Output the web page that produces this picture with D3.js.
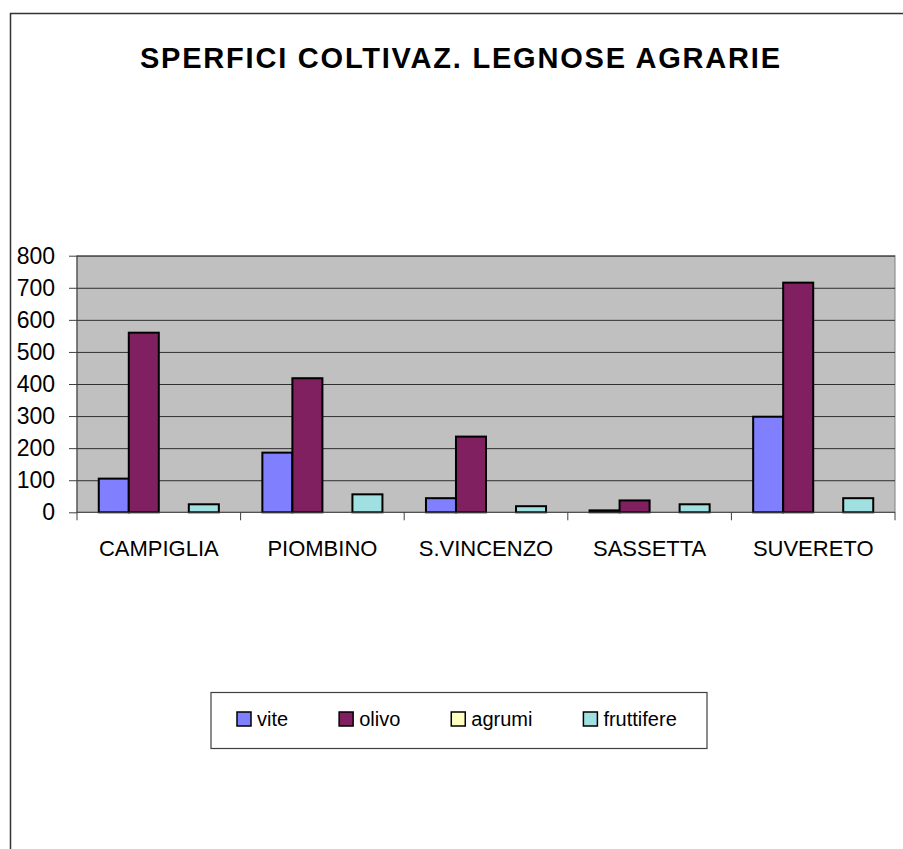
<!DOCTYPE html>
<html>
<head>
<meta charset="utf-8">
<script src="https://cdn.jsdelivr.net/npm/d3@7.9.0/dist/d3.min.js"></script>
<style>
  body { margin: 0; background: #fff; }
  text { font-family: "Liberation Sans", Arial, sans-serif; fill: #000; }
</style>
</head>
<body>
<div id="chart"></div>
<script>
const categories = ["CAMPIGLIA", "PIOMBINO", "S.VINCENZO", "SASSETTA", "SUVERETO"];
const seriesNames = ["vite", "olivo", "agrumi", "fruttifere"];
const vite = [105, 186, 44, 6, 298];
const olivo = [560, 418, 236, 37, 716];
const agrumi = [0, 0, 0, 0, 0];
const fruttifere = [25, 56, 19, 25, 44];
const yTicks = [0, 100, 200, 300, 400, 500, 600, 700, 800];
const colors = ["#8080ff", "#802060", "#ffffc0", "#a0e0e0"];

const width = 903;
const height = 849;

const seriesValues = [vite, olivo, agrumi, fruttifere];
const rows = categories.map((c, i) => ({
  cat: c,
  values: seriesNames.map((s, j) => ({ key: s, value: seriesValues[j][i] }))
}));

const plot = { left: 77, right: 895, top: 255.7, bottom: 512.3 };

const svg = d3.select("#chart")
  .append("svg")
  .attr("width", width)
  .attr("height", height);

// outer chart frame (clipped on right/bottom like the original)
svg.append("rect")
  .attr("x", 10.5).attr("y", 13.5)
  .attr("width", 1000).attr("height", 1000)
  .attr("fill", "none")
  .attr("stroke", "#333")
  .attr("stroke-width", 1.5);

svg.append("text")
  .attr("x", 460)
  .attr("y", 68)
  .attr("text-anchor", "middle")
  .attr("textLength", 640)
  .attr("lengthAdjust", "spacing")
  .style("font-size", "29px")
  .style("font-weight", "bold")
  .text("SPERFICI COLTIVAZ. LEGNOSE AGRARIE");

const x = d3.scaleBand()
  .domain(categories)
  .range([plot.left, plot.right]);

const xSub = d3.scaleBand()
  .domain(seriesNames)
  .range([0, x.bandwidth()])
  .paddingOuter(0.725);

const y = d3.scaleLinear()
  .domain([0, 800])
  .range([plot.bottom, plot.top]);

const color = d3.scaleOrdinal().domain(seriesNames).range(colors);

// plot background
svg.append("rect")
  .attr("x", plot.left).attr("y", plot.top)
  .attr("width", plot.right - plot.left)
  .attr("height", plot.bottom - plot.top)
  .attr("fill", "#c0c0c0")
  .attr("stroke", "#808080")
  .attr("stroke-width", 1);

// gridlines
svg.append("g")
  .attr("class", "gridlines")
  .attr("transform", `translate(${plot.left},0)`)
  .call(d3.axisLeft(y).tickValues(yTicks.slice(1)).tickFormat("").tickSize(-(plot.right - plot.left)))
  .call(g => g.select(".domain").remove())
  .call(g => g.selectAll("line").attr("stroke", "#303030").attr("stroke-width", 1));

// bars
svg.append("g")
  .selectAll("g")
  .data(rows)
  .join("g")
  .attr("transform", d => `translate(${x(d.cat)},0)`)
  .selectAll("rect")
  .data(d => d.values)
  .join("rect")
  .attr("x", d => xSub(d.key))
  .attr("y", d => y(d.value))
  .attr("width", xSub.bandwidth())
  .attr("height", d => y(0) - y(d.value))
  .attr("fill", d => color(d.key))
  .attr("stroke", "#000")
  .attr("stroke-width", 2);

// y axis
svg.append("g")
  .attr("transform", `translate(${plot.left},0)`)
  .call(d3.axisLeft(y).tickValues(yTicks).tickSize(8).tickPadding(14))
  .call(g => g.select(".domain").attr("stroke", "#404040").attr("d", `M0,${plot.top}V${plot.bottom}`))
  .call(g => g.selectAll("line").attr("stroke", "#404040"))
  .call(g => g.selectAll("text")
    .style("font-size", "23px")
    .style("font-family", "'Liberation Sans', Arial, sans-serif")
    .attr("fill", "#000"));

// x axis
const xAxis = svg.append("g")
  .attr("transform", `translate(0,${plot.bottom})`)
  .call(d3.axisBottom(x).tickSize(0).tickPadding(28))
  .call(g => g.select(".domain").attr("stroke", "#404040").attr("d", `M${plot.left},0H${plot.right}`))
  .call(g => g.selectAll("text")
    .style("font-size", "22px")
    .style("font-family", "'Liberation Sans', Arial, sans-serif")
    .attr("fill", "#000"));

xAxis.selectAll(".sep")
  .data(categories.map(c => x(c)).concat([plot.right]))
  .join("line")
  .attr("class", "sep")
  .attr("x1", d => d).attr("x2", d => d)
  .attr("y1", 0).attr("y2", 8)
  .attr("stroke", "#404040");

// legend
const legend = svg.append("g");
legend.append("rect")
  .attr("x", 211).attr("y", 692.5)
  .attr("width", 496).attr("height", 56)
  .attr("fill", "#fff")
  .attr("stroke", "#404040")
  .attr("stroke-width", 1.2);

let lx = 237;
seriesNames.forEach((s, i) => {
  const item = legend.append("g").attr("transform", `translate(${lx},712)`);
  item.append("rect")
    .attr("width", 14).attr("height", 14)
    .attr("fill", colors[i])
    .attr("stroke", "#000")
    .attr("stroke-width", 1.5);
  const t = item.append("text")
    .attr("x", 20).attr("y", 14)
    .style("font-size", "20px")
    .text(s);
  lx += 20 + t.node().getComputedTextLength() + 51;
});
</script>
</body>
</html>
